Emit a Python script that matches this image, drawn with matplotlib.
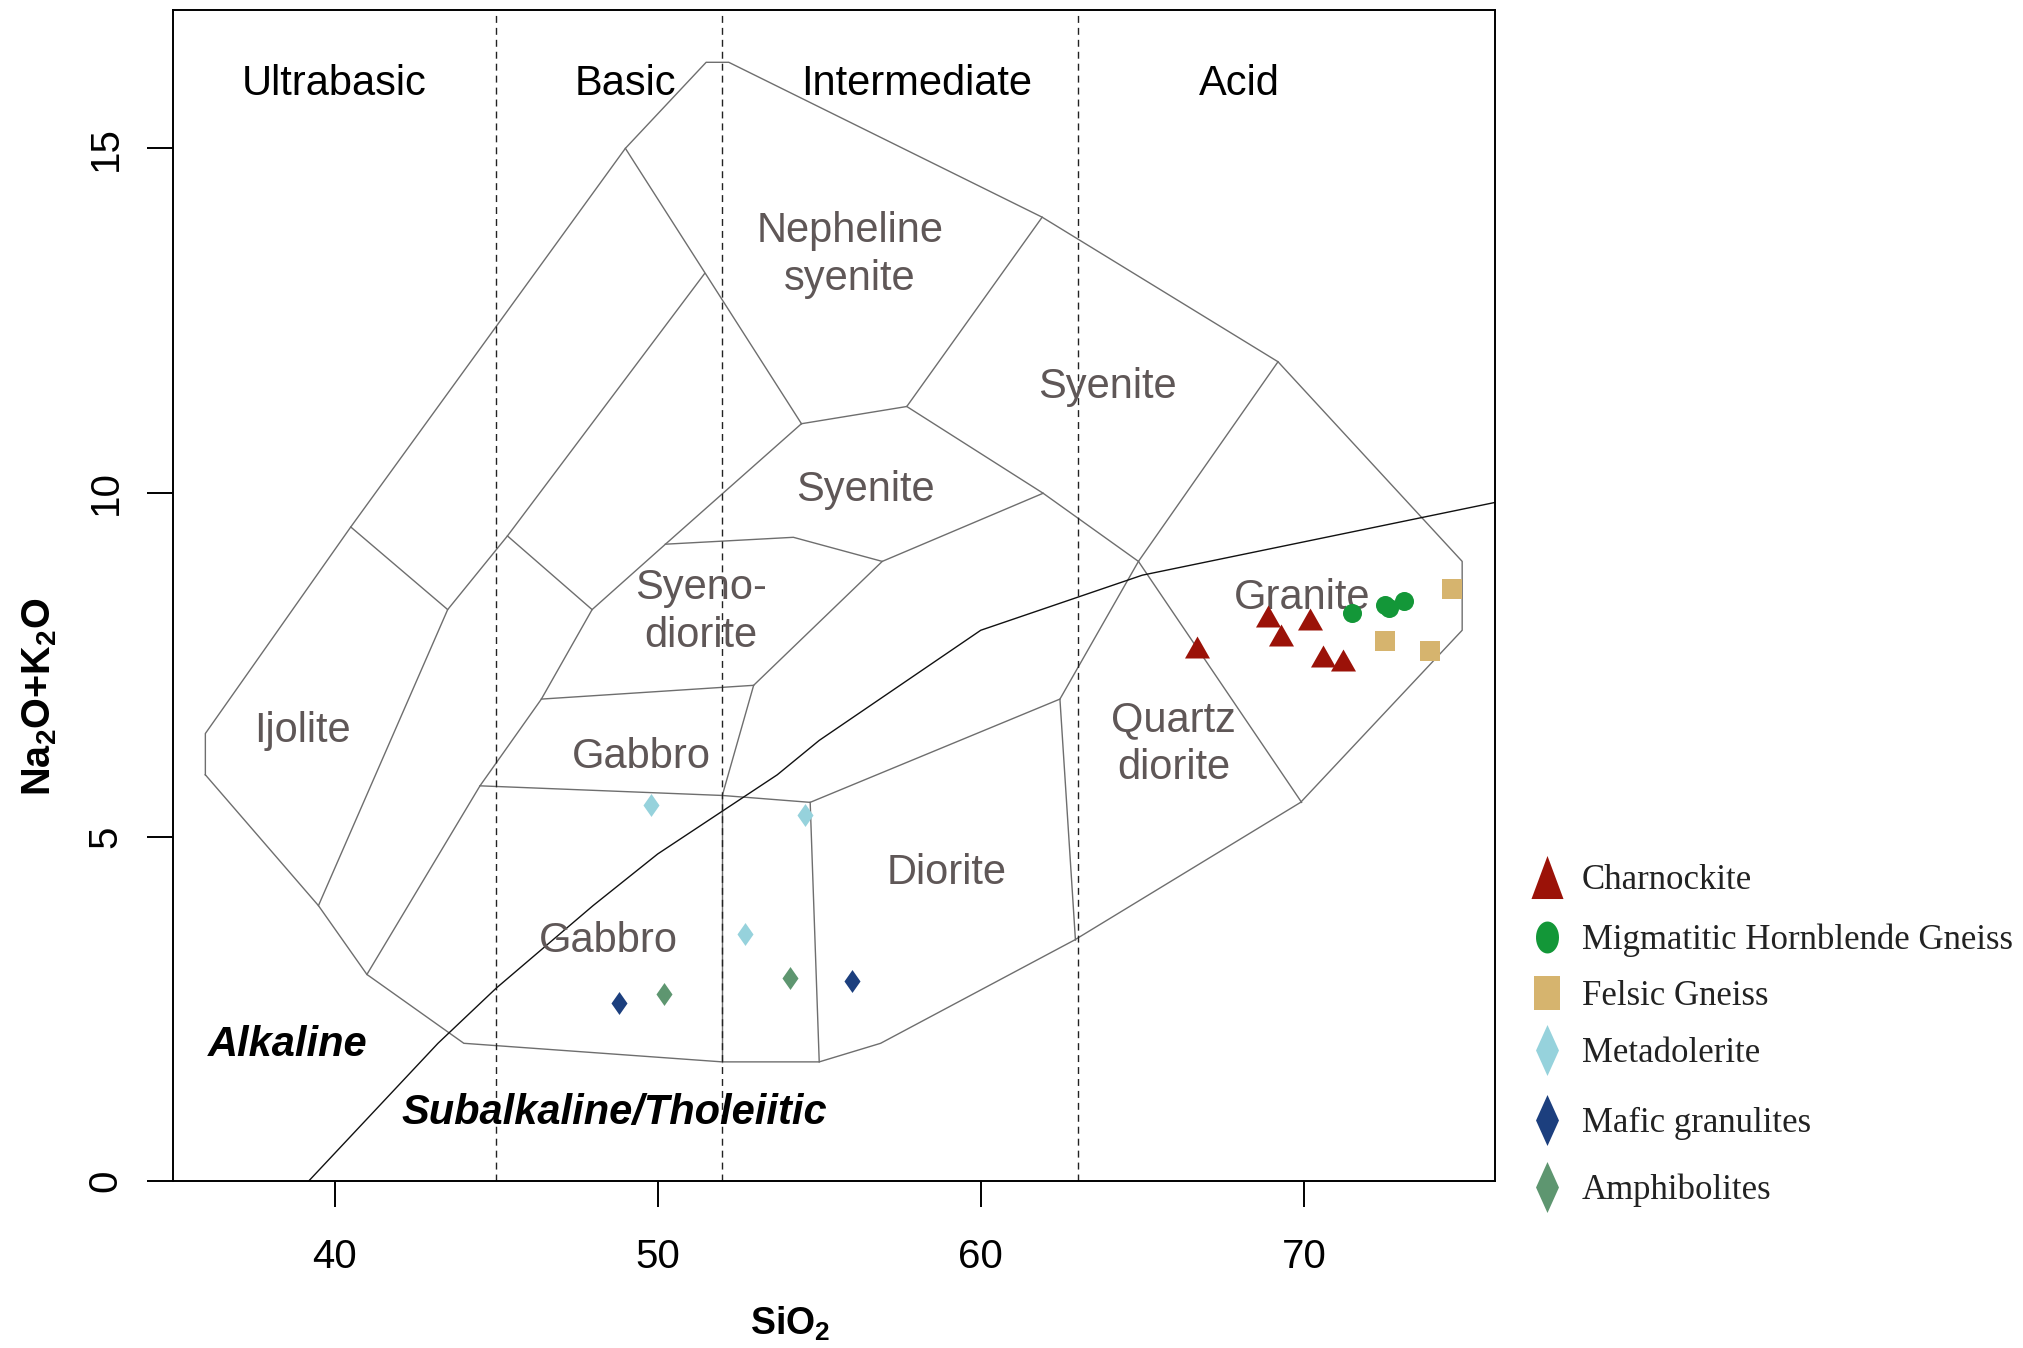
import numpy as np
import matplotlib
matplotlib.use('Agg')
import matplotlib.pyplot as plt
from matplotlib.lines import Line2D

plt.rcParams['font.family'] = ['Liberation Sans', 'DejaVu Sans']
plt.rcParams['mathtext.default'] = 'regular'

# ---- samples (SiO2, Na2O+K2O in wt%) ----
charnockite_sio2 = [66.7, 68.9, 69.3, 70.2, 70.6, 71.2]
charnockite_alk = [7.75, 8.21, 7.93, 8.17, 7.63, 7.57]

hbl_gneiss_sio2 = [71.5, 72.5, 72.65, 73.1]
hbl_gneiss_alk = [8.25, 8.37, 8.32, 8.42]

felsic_sio2 = [74.6, 72.5, 73.9]
felsic_alk = [8.60, 7.84, 7.70]

metadolerite_sio2 = [49.8, 54.55, 52.7]
metadolerite_alk = [5.46, 5.32, 3.59]

mafic_gran_sio2 = [48.8, 56.0]
mafic_gran_alk = [2.59, 2.91]

amphibolite_sio2 = [50.2, 54.1]
amphibolite_alk = [2.71, 2.95]

# ---- classification fields (plutonic TAS) ----
outline = [(36.0, 5.9), (36.0, 6.5), (40.5, 9.5), (49.0, 15.0), (51.5, 16.25),
           (52.2, 16.25), (61.9, 14.0), (69.2, 11.9), (74.9, 9.0), (74.9, 8.0),
           (69.9, 5.5), (62.9, 3.5), (56.9, 2.0), (55.0, 1.73), (52.0, 1.73),
           (44.0, 2.0), (41.0, 3.0), (39.5, 4.0), (36.0, 5.9)]

field_lines = [
    [(40.5, 9.5), (43.5, 8.3), (39.5, 4.0)],
    [(43.5, 8.3), (45.35, 9.37), (51.45, 13.18)],
    [(49.0, 15.0), (54.45, 11.0)],
    [(45.35, 9.37), (47.97, 8.3)],
    [(41.0, 3.0), (44.5, 5.74), (46.4, 7.0), (47.97, 8.3), (50.24, 9.25), (54.45, 11.0)],
    [(54.45, 11.0), (57.71, 11.25), (61.9, 14.0)],
    [(57.71, 11.25), (61.93, 9.99), (64.88, 9.0)],
    [(69.2, 11.9), (64.88, 9.0), (69.93, 5.5)],
    [(64.88, 9.0), (62.45, 7.0), (62.93, 3.5)],
    [(50.24, 9.25), (54.2, 9.35), (56.95, 9.0), (61.93, 9.99)],
    [(56.95, 9.0), (52.97, 7.2), (52.0, 5.6)],
    [(46.4, 7.0), (52.97, 7.2)],
    [(44.5, 5.74), (52.0, 5.6), (54.72, 5.5), (62.45, 7.0)],
    [(54.72, 5.5), (55.0, 1.73)],
    [(52.0, 5.6), (52.0, 1.73)],
]

field_names = ['Nepheline\nsyenite', 'Syenite', 'Syenite', 'Syeno-\ndiorite', 'Granite',
               'Ijolite', 'Gabbro', 'Quartz\ndiorite', 'Diorite', 'Gabbro']
field_x = [55.95, 63.93, 56.44, 51.35, 69.95, 38.99, 49.49, 65.97, 58.94, 48.46]
field_y = [13.45, 11.54, 10.04, 8.27, 8.47, 6.54, 6.16, 6.34, 4.48, 3.48]

# Irvine & Baragar (1971) alkaline / subalkaline divide
ib_sio2 = [39.2, 40, 43.2, 45, 48, 50, 53.7, 55, 60, 65, 77.4]
ib_alk = [0, 0.4, 2, 2.8, 4, 4.75, 5.9, 6.4, 8, 8.8, 10]

silica_limits = [45, 52, 63]
silica_names = ['Ultrabasic', 'Basic', 'Intermediate', 'Acid']
silica_name_x = [40, 49, 58, 68]

fig = plt.figure(figsize=(20.24, 13.48), dpi=100)
ax = fig.add_axes([0.0855, 0.1239, 0.6532, 0.8687])

grey = '#6e6e6e'
lx, ly = zip(*outline)
ax.plot(lx, ly, color=grey, lw=1.0)
for seg in field_lines:
    sx, sy = zip(*seg)
    ax.plot(sx, sy, color=grey, lw=1.0)

ax.plot(ib_sio2, ib_alk, color='#111111', lw=1.0)

for s in silica_limits:
    ax.axvline(s, color='#222222', lw=1.0, dashes=(5, 3.6))

for name, x in zip(silica_names, silica_name_x):
    ax.text(x, 15.94, name, fontsize=30, ha='center', va='center', color='black')

for name, x, y in zip(field_names, field_x, field_y):
    ax.text(x, y, name, fontsize=30, ha='center', va='center', color='#5f5757',
            linespacing=1.25)

ax.text(38.55, 1.98, 'Alkaline', fontsize=30, fontweight='bold', fontstyle='italic',
        ha='center', va='center')
ax.text(48.67, 0.99, 'Subalkaline/Tholeiitic', fontsize=30, fontweight='bold',
        fontstyle='italic', ha='center', va='center')

# marker shapes
tri_plot = [(-1, -0.88), (1, -0.88), (0, 0.88)]
diamond_plot = [(0, 1), (0.7, 0), (0, -1), (-0.7, 0)]

groups = [
    (charnockite_sio2, charnockite_alk, '#9b1208', tri_plot, 18, 'Charnockite'),
    (hbl_gneiss_sio2, hbl_gneiss_alk, '#139738', 'o', 13.7, 'Migmatitic Hornblende Gneiss'),
    (felsic_sio2, felsic_alk, '#d6b46e', 's', 14, 'Felsic Gneiss'),
    (metadolerite_sio2, metadolerite_alk, '#96d2dc', diamond_plot, 16.5, 'Metadolerite'),
    (mafic_gran_sio2, mafic_gran_alk, '#1c3f7e', diamond_plot, 16.5, 'Mafic granulites'),
    (amphibolite_sio2, amphibolite_alk, '#5e9670', diamond_plot, 16.5, 'Amphibolites'),
]
for xs, ys, col, mk, ms, lab in groups:
    ax.plot(xs, ys, linestyle='none', marker=mk, markersize=ms, color=col,
            markeredgewidth=0, zorder=5)

ax.set_xlim(35.0, 75.92)
ax.set_ylim(0, 17.01)
ax.set_xticks([40, 50, 60, 70])
ax.set_yticks([0, 5, 10, 15])
ax.tick_params(direction='out', length=19, width=1.4, labelsize=29)
ax.tick_params(axis='x', pad=22)
ax.tick_params(axis='y', pad=16, labelrotation=90)
for lbl in ax.get_yticklabels():
    lbl.set_va('center')
for sp in ax.spines.values():
    sp.set_linewidth(1.4)

fig.text(790 / 2024, 1 - 1335 / 1348, 'SiO$_2$', fontsize=27, fontweight='bold',
         ha='center', va='baseline')
fig.text(50 / 2024, 1 - 697 / 1348, 'Na$_2$O+K$_2$O', fontsize=28.5, fontweight='bold',
         rotation=90, rotation_mode='anchor', ha='center', va='baseline')

# key, drawn to the right of the plot
key_shapes = [
    [(-0.744, -1), (0.744, -1), (0, 1)],
    [(0.72 * np.cos(t), np.sin(t)) for t in np.linspace(0, 2 * np.pi, 40)],
    [(-0.79, -1), (0.79, -1), (0.79, 1), (-0.79, 1)],
    [(0, 1), (0.45, 0), (0, -1), (-0.45, 0)],
    [(0, 1), (0.45, 0), (0, -1), (-0.45, 0)],
    [(0, 1), (0.45, 0), (0, -1), (-0.45, 0)],
]
key_sizes = [31, 23, 23.8, 36.7, 36.7, 36.7]
key_rows = [877, 937, 993, 1050, 1120, 1187]
for (xs, ys, col, mk, ms, lab), shape, ksz, row in zip(groups, key_shapes, key_sizes, key_rows):
    fy = 1 - row / 1348
    fig.add_artist(Line2D([1547 / 2024], [fy], transform=fig.transFigure,
                          linestyle='none', marker=shape, markersize=ksz,
                          color=col, markeredgewidth=0))
    fig.text(1582 / 2024, 1 - (row + 12) / 1348, lab, fontsize=25,
             family=['Liberation Serif', 'DejaVu Serif'], color='#222222',
             ha='left', va='baseline')

fig.savefig('out.png', dpi=100)
